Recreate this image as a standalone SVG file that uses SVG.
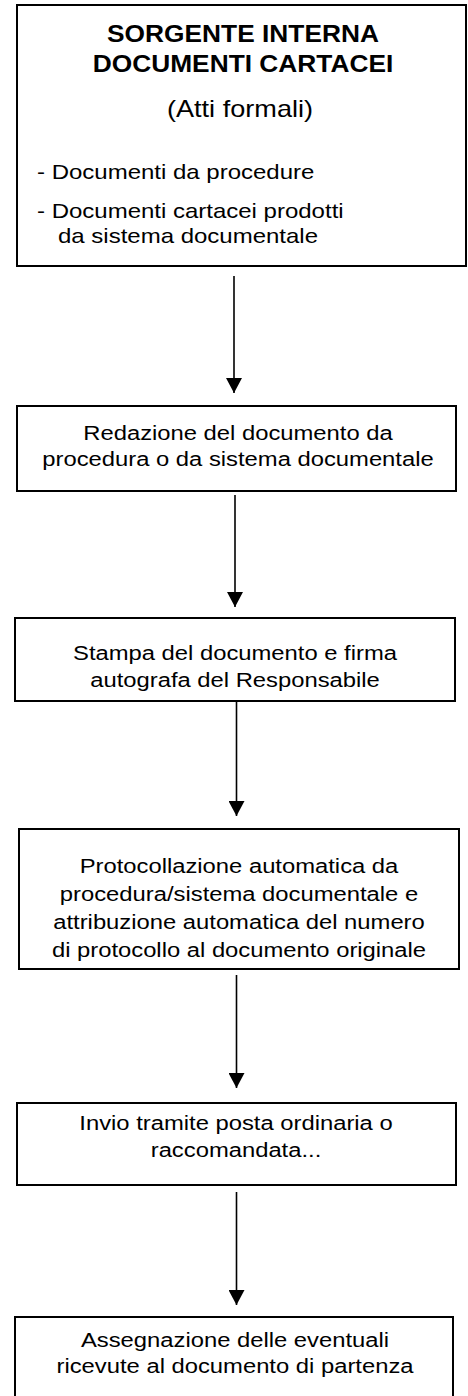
<svg xmlns="http://www.w3.org/2000/svg" width="468" height="1396" viewBox="0 0 468 1396">
<style>
.box{fill:#fff;stroke:#000;stroke-width:2}
.t{font-family:"Liberation Sans",Arial,sans-serif;font-size:20px;fill:#000}
.c{text-anchor:middle}
.b{font-weight:bold;font-size:23.5px}
.conn{stroke:#000;stroke-width:1.6;fill:none}
</style>
<defs>
<marker id="ah" markerUnits="userSpaceOnUse" markerWidth="16" markerHeight="16" refX="15" refY="8" orient="auto" viewBox="0 0 16 16">
<path d="M0,0 L15,8 L0,16 z" fill="#000"/>
</marker>
</defs>
<rect width="468" height="1396" fill="#fff"/>
<g id="n1">
<rect class="box" x="17" y="5" width="449" height="261"/>
<text class="t c b" transform="translate(243 42) scale(1.12 1)">SORGENTE INTERNA</text>
<text class="t c b" transform="translate(243 72) scale(1.12 1)">DOCUMENTI CARTACEI</text>
<text class="t c" style="font-size:24px" transform="translate(240 117) scale(1.13 1)">(Atti formali)</text>
<text class="t" transform="translate(37 179) scale(1.2 1)">- Documenti da procedure</text>
<text class="t" transform="translate(37 218) scale(1.2 1)">- Documenti cartacei prodotti</text>
<text class="t" transform="translate(58 243) scale(1.2 1)">da sistema documentale</text>
</g>
<g id="n2">
<rect class="box" x="17" y="406" width="439" height="85"/>
<text class="t c" transform="translate(238 440) scale(1.19 1)">Redazione del documento da</text>
<text class="t c" transform="translate(238 466) scale(1.19 1)">procedura o da sistema documentale</text>
</g>
<g id="n3">
<rect class="box" x="15" y="618" width="440" height="83"/>
<text class="t c" transform="translate(235 660) scale(1.19 1)">Stampa del documento e firma</text>
<text class="t c" transform="translate(235 687) scale(1.19 1)">autografa del Responsabile</text>
</g>
<g id="n4">
<rect class="box" x="19" y="829" width="440" height="140"/>
<text class="t c" transform="translate(239 873) scale(1.19 1)">Protocollazione automatica da</text>
<text class="t c" transform="translate(239 901) scale(1.19 1)">procedura/sistema documentale e</text>
<text class="t c" transform="translate(239 929) scale(1.19 1)">attribuzione automatica del numero</text>
<text class="t c" transform="translate(239 957) scale(1.19 1)">di protocollo al documento originale</text>
</g>
<g id="n5">
<rect class="box" x="17" y="1103" width="439" height="82"/>
<text class="t c" transform="translate(236 1130) scale(1.19 1)">Invio tramite posta ordinaria o</text>
<text class="t c" transform="translate(236 1157) scale(1.19 1)">raccomandata...</text>
</g>
<g id="n6">
<rect class="box" x="15" y="1317" width="438" height="90"/>
<text class="t c" transform="translate(235 1347) scale(1.19 1)">Assegnazione delle eventuali</text>
<text class="t c" transform="translate(235 1373) scale(1.19 1)">ricevute al documento di partenza</text>
</g>
<g id="connectors">
<line class="conn" x1="234" y1="276" x2="234" y2="393" marker-end="url(#ah)"/>
<line class="conn" x1="235" y1="495" x2="235" y2="607" marker-end="url(#ah)"/>
<line class="conn" x1="236.5" y1="702" x2="236.5" y2="816" marker-end="url(#ah)"/>
<line class="conn" x1="236.5" y1="975" x2="236.5" y2="1088" marker-end="url(#ah)"/>
<line class="conn" x1="236.5" y1="1192" x2="236.5" y2="1305" marker-end="url(#ah)"/>
</g>
</svg>
